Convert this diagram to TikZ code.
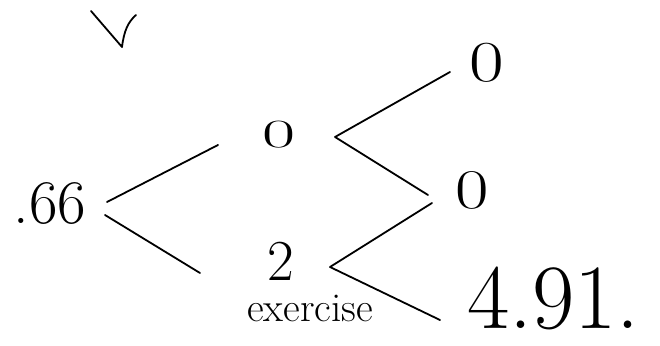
\documentclass[tikz,border=0pt]{standalone}
\usepackage{fontspec}
\begin{document}
\begin{tikzpicture}[x=1pt,y=1pt,
  branch/.style={draw=black,line width=1.8pt,line cap=round,line join=round},
  val/.style={inner sep=0pt,text=black}]
\useasboundingbox (0,0) rectangle (660,345);
% check mark
\draw[branch] (91,334) -- (122,298) .. controls (124,314) and (128,323) .. (136,330);
% nodes
\node[val,font=\fontsize{62}{66}\selectfont] (n66) at (50,141) {.66};
\node[val,font=\fontsize{40}{44}\selectfont] (nu) at (279,210) {\scalebox{1.8}[1]{0}};
\node[val,font=\fontsize{58}{62}\selectfont] (nd) at (281,84) {2};
\node[val,font=\fontsize{41}{45}\selectfont,anchor=base west] (ex) at (247,24) {exercise};
\node[val,font=\fontsize{58}{62}\selectfont] (nuu) at (487,282) {\scalebox{1.3}[1]{0}};
\node[val,font=\fontsize{56}{60}\selectfont] (nud) at (472,155) {\scalebox{1.3}[1]{0}};
\node[val,font=\fontsize{92}{96}\selectfont,anchor=base west] (ndd) at (467,17) {4.91.};
% branch points
\coordinate (a0) at (107,143);
\coordinate (a1) at (218,200);
\coordinate (a0b) at (105,130);
\coordinate (a2) at (200,72);
\coordinate (b0) at (335,208);
\coordinate (b1) at (450,273);
\coordinate (b2) at (428,150);
\coordinate (c1) at (432,142);
\coordinate (c0) at (330,78);
\coordinate (c2) at (440,25);
% connectors
\draw[branch] (a0) -- (a1);
\draw[branch] (a0b) -- (a2);
\draw[branch] (b1) -- (b0) -- (b2);
\draw[branch] (c1) -- (c0) -- (c2);
\end{tikzpicture}
\end{document}
